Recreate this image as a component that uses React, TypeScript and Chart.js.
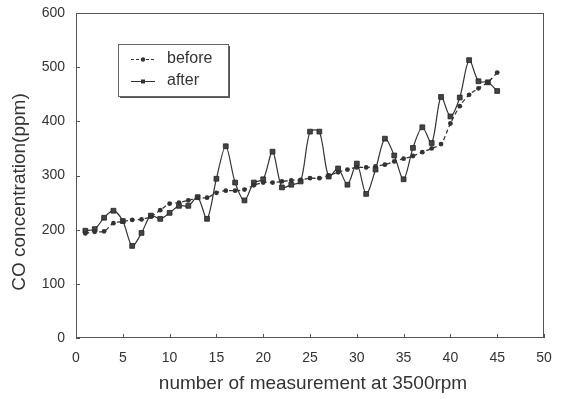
import React, { useEffect, useRef } from "react";
import { Chart, registerables } from "chart.js";

Chart.register(...registerables);

const measurementNumbers = [
  1, 2, 3, 4, 5, 6, 7, 8, 9, 10, 11, 12, 13, 14, 15, 16, 17, 18, 19, 20, 21, 22, 23,
  24, 25, 26, 27, 28, 29, 30, 31, 32, 33, 34, 35, 36, 37, 38, 39, 40, 41, 42, 43, 44, 45,
];
const beforeValues = [
  193, 196, 197, 212, 215, 218, 219, 224, 236, 248, 250, 254, 259, 259, 268, 272, 272,
  274, 282, 287, 287, 289, 291, 292, 295, 295, 300, 306, 311, 315, 315, 317, 320, 326,
  331, 336, 343, 350, 358, 396, 428, 449, 461, 472, 490,
];
const afterValues = [
  198, 201, 222, 235, 216, 170, 194, 226, 220, 231, 244, 244, 260, 220, 294, 354, 287,
  254, 287, 293, 344, 278, 283, 289, 381, 381, 298, 313, 283, 322, 266, 311, 368, 337,
  293, 351, 389, 360, 445, 409, 444, 513, 474, 472, 456,
];
const xTickValues = [0, 5, 10, 15, 20, 25, 30, 35, 40, 45, 50];
const yTickValues = [0, 100, 200, 300, 400, 500, 600];
const seriesNames = ["before", "after"];
const xTitle = "number of measurement at 3500rpm";
const yTitle = "CO concentration(ppm)";

const FONT = '"Liberation Sans", Arial, sans-serif';
const INK = "#333";

const decorPlugin = {
  id: "decor",
  beforeDatasetsDraw(chart: any) {
    const { ctx, chartArea: a, scales } = chart;
    ctx.save();
    ctx.strokeStyle = "#555";
    ctx.lineWidth = 1;
    ctx.strokeRect(a.left + 0.5, a.top + 0.5, a.right - a.left - 1, a.bottom - a.top - 1);
    ctx.beginPath();
    xTickValues.forEach((v) => {
      const px = Math.round(scales.x.getPixelForValue(v)) + 0.5;
      ctx.moveTo(px, a.bottom);
      ctx.lineTo(px, a.bottom - 4);
    });
    yTickValues.forEach((v) => {
      const py = Math.round(scales.y.getPixelForValue(v)) + 0.5;
      ctx.moveTo(a.left, py);
      ctx.lineTo(a.left + 4, py);
    });
    ctx.stroke();
    ctx.restore();
  },
  afterDraw(chart: any) {
    const { ctx, chartArea: a } = chart;
    ctx.save();
    ctx.fillStyle = INK;
    ctx.font = `19px ${FONT}`;
    ctx.textAlign = "center";
    ctx.textBaseline = "middle";
    ctx.fillText(xTitle, (a.left + a.right) / 2 + 3, 384);
    ctx.translate(20, 192);
    ctx.rotate(-Math.PI / 2);
    ctx.fillText(yTitle, 0, 0);
    ctx.restore();

    // legend
    const bx = 118, by = 44, bw = 110, bh = 52;
    ctx.save();
    ctx.fillStyle = "#555";
    ctx.fillRect(bx + 2, by + 2, bw, bh);
    ctx.fillStyle = "#fff";
    ctx.fillRect(bx, by, bw, bh);
    ctx.strokeStyle = "#666";
    ctx.lineWidth = 1;
    ctx.strokeRect(bx + 0.5, by + 0.5, bw, bh);
    const rows = [59, 81];
    rows.forEach((ry, i) => {
      ctx.strokeStyle = INK;
      ctx.lineWidth = 1;
      ctx.setLineDash(i === 0 ? [3, 2] : []);
      ctx.beginPath();
      ctx.moveTo(131, ry + 0.5);
      ctx.lineTo(155, ry + 0.5);
      ctx.stroke();
      ctx.setLineDash([]);
      ctx.fillStyle = INK;
      if (i === 0) {
        ctx.beginPath();
        ctx.arc(143, ry + 0.5, 2.2, 0, Math.PI * 2);
        ctx.fill();
      } else {
        ctx.fillRect(141, ry - 1.5, 4, 4);
      }
      ctx.font = `16px ${FONT}`;
      ctx.textAlign = "left";
      ctx.textBaseline = "middle";
      ctx.fillText(seriesNames[i], 167, ry);
    });
    ctx.restore();
  },
};

export default function App() {
  const ref = useRef<HTMLCanvasElement | null>(null);
  useEffect(() => {
    if (!ref.current) return;
    const chart = new Chart(ref.current, {
      type: "line",
      data: {
        datasets: [
          {
            label: seriesNames[0],
            data: measurementNumbers.map((x, i) => ({ x, y: beforeValues[i] })),
            borderColor: INK,
            backgroundColor: INK,
            borderWidth: 1.3,
            borderDash: [4, 3],
            pointStyle: "circle",
            pointRadius: 2.4,
            pointBorderWidth: 0,
            tension: 0.3,
          },
          {
            label: seriesNames[1],
            data: measurementNumbers.map((x, i) => ({ x, y: afterValues[i] })),
            borderColor: INK,
            backgroundColor: "#444",
            borderWidth: 1.2,
            pointStyle: "rect",
            pointRadius: 3.4,
            pointBorderColor: "#222",
            pointBorderWidth: 0.8,
            tension: 0.3,
          },
        ],
      },
      options: {
        responsive: false,
        animation: false,
        layout: { padding: { top: 13, right: 21, left: 0, bottom: 0 } },
        plugins: { legend: { display: false }, tooltip: { enabled: false } },
        scales: {
          x: {
            type: "linear",
            min: 0,
            max: 50,
            grid: { display: false },
            border: { display: false },
            afterBuildTicks: (s: any) => {
              s.ticks = xTickValues.map((v) => ({ value: v }));
            },
            afterFit: (s: any) => {
              s.height = 61;
            },
            ticks: { color: INK, font: { family: FONT, size: 14 }, padding: 4, maxRotation: 0 },
          },
          y: {
            type: "linear",
            min: 0,
            max: 600,
            grid: { display: false },
            border: { display: false },
            afterBuildTicks: (s: any) => {
              s.ticks = yTickValues.map((v) => ({ value: v }));
            },
            afterFit: (s: any) => {
              s.width = 76;
            },
            ticks: { color: INK, font: { family: FONT, size: 14 }, padding: 3 },
          },
        },
      },
      plugins: [decorPlugin],
    });
    return () => chart.destroy();
  }, []);
  return (
    <div style={{ position: "fixed", left: 0, top: 0, width: 565, height: 399, background: "#fff" }}>
      <canvas ref={ref} width={565} height={399} />
    </div>
  );
}
